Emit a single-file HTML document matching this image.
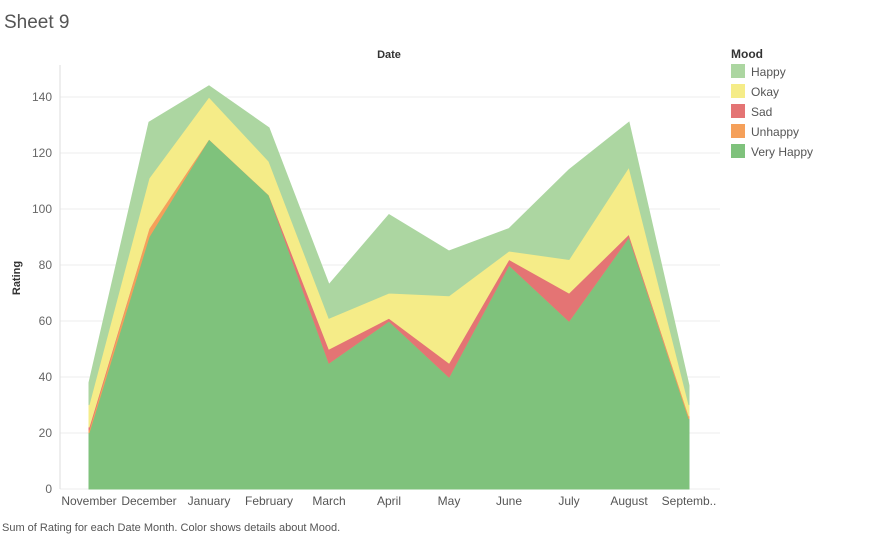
<!DOCTYPE html>
<html><head><meta charset="utf-8"><style>
body{margin:0;background:#fff;font-family:"Liberation Sans",sans-serif;}
svg{display:block}
</style></head><body>
<svg id="c" width="869" height="535">
<text x="4" y="28" font-size="19" fill="#555">Sheet 9</text>
<text x="389" y="58" font-size="11" font-weight="bold" fill="#333" text-anchor="middle">Date</text>
<text x="20" y="278" font-size="11" font-weight="bold" fill="#333" text-anchor="middle" transform="rotate(-90 20 278)">Rating</text>
<text x="2" y="531" font-size="11" fill="#555">Sum of Rating for each Date Month.  Color shows details about Mood.</text>
<g id="grid"></g><g id="areas"></g><g id="axes"></g><g id="legend"></g>
</svg>
<script>
const categories=["November","December","January","February","March","April","May","June","July","August","Septemb.."];
const veryHappy=[20,90,125,105,45,60,40,80,60,90,25];
const unhappy=[1,3,0,0,0,0,0,0,0,0,1];
const sad=[1,0,0,0,5,1,5,2,10,1,0];
const okay=[8,18,15,12,11,9,24,3,12,24,4];
const happy=[8,20,4,12,12,28,16,8,32,16,7];
const yTicks=[0,20,40,60,80,100,120,140];
const series=[["Very Happy",veryHappy,"#7fc27c"],["Unhappy",unhappy,"#f5a05a"],["Sad",sad,"#e47474"],["Okay",okay,"#f5ec88"],["Happy",happy,"#acd6a1"]];
const legendOrder=[["Happy","#acd6a1"],["Okay","#f5ec88"],["Sad","#e47474"],["Unhappy","#f5a05a"],["Very Happy","#7fc27c"]];
const NS="http://www.w3.org/2000/svg";
const x=i=>89+i*60;
const y=v=>489-v*2.8;
function mk(t,a,p){const e=document.createElementNS(NS,t);for(const k in a)e.setAttribute(k,a[k]);p.appendChild(e);return e;}
const grid=document.getElementById('grid'),axes=document.getElementById('axes'),areas=document.getElementById('areas'),leg=document.getElementById('legend');
yTicks.forEach(t=>{
 const l=mk('line',{x1:60,x2:720,y1:y(t),y2:y(t),stroke:"#eee"},grid);
 
 
 const tx=mk('text',{x:52,y:y(t)+4,"font-size":12,fill:"#666","text-anchor":"end"},axes);tx.textContent=t;
 
 
});
const ax=mk('line',{x1:60,x2:60,y1:65,y2:489,stroke:"#ddd"},axes);


categories.forEach((c,i)=>{const t=mk('text',{x:x(i),y:505,"font-size":12,fill:"#555","text-anchor":"middle"},axes);t.textContent=c;
 
 });
let base=categories.map(()=>0);
series.forEach(([n,vals,col])=>{
 const top=base.map((b,i)=>b+vals[i]);
 let d="M"+top.map((v,i)=>x(i)+","+y(v)).join("L");
 for(let i=base.length-1;i>=0;i--)d+="L"+x(i)+","+y(base[i]);
 const p=mk('path',{d:d+"Z",fill:col,stroke:col,"stroke-width":1},areas);
 
 
 base=top;
});
const lt=mk('text',{x:731,y:58,"font-size":12,"font-weight":"bold",fill:"#333"},leg);lt.textContent="Mood";


legendOrder.forEach(([n,c],i)=>{
 const g=mk('g',{},leg);
 
 
 mk('rect',{x:731,y:64+i*20,width:14,height:14,fill:c},g);
 const t=mk('text',{x:751,y:76+i*20,"font-size":12,fill:"#555"},g);t.textContent=n;
});
</script>
</body></html>
